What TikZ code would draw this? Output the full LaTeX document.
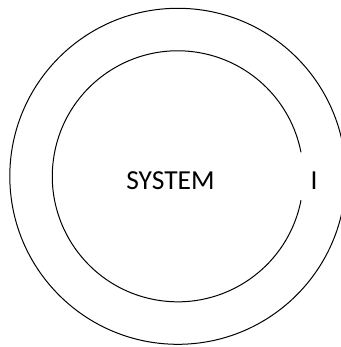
\documentclass[tikz,border=0pt]{standalone}
\usepackage{fontspec}
\setmainfont{Carlito}
\begin{document}
\begin{tikzpicture}[x=1pt,y=-1pt,line width=1pt,font=\fontsize{27.5}{30}\selectfont]
        \def\cx{177.8}
        \def\cy{176.3}
        \def\rout{168}
        \def\rin{125.5}
        \def\gap{11}

        \useasboundingbox (0,0) rectangle (340,347);
        \fill[white] (0,0) rectangle (340,347);

        \draw (\cx,\cy) circle[radius=\rout];
        \draw ([shift={(\gap:\rin)}]\cx,\cy)
            arc[start angle=\gap,end angle=360-\gap,radius=\rin];

        \node (system) at (170.5,181) {SYSTEM};
        \node (i) at (314,181) {I};
    \end{tikzpicture}
\end{document}
